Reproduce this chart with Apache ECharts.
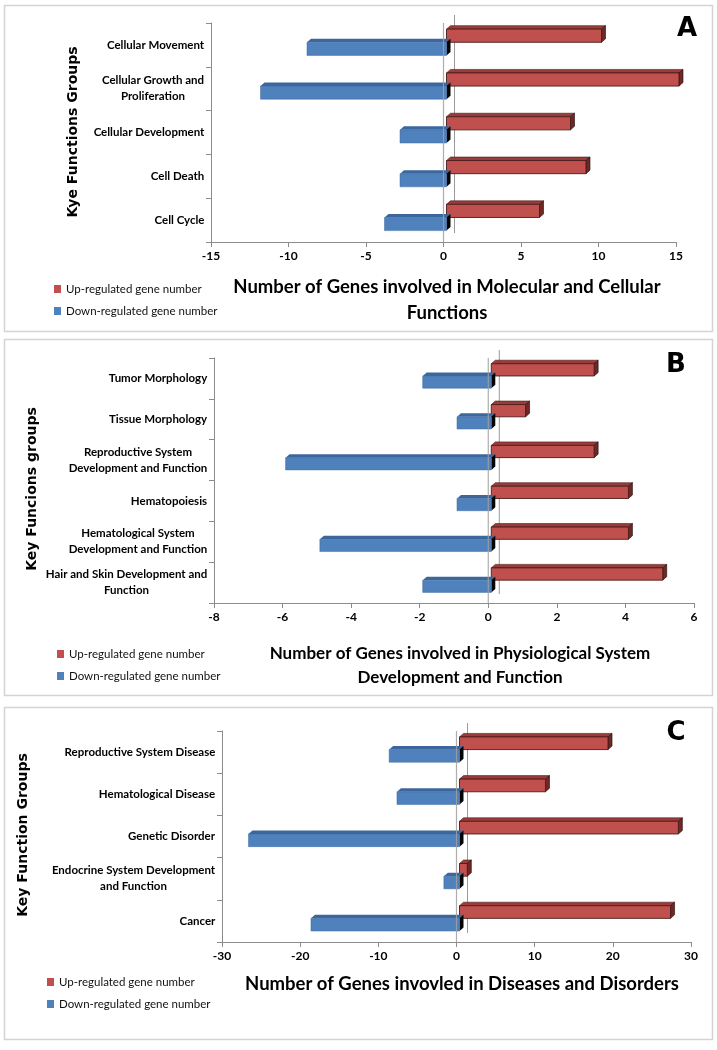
<!DOCTYPE html>
<html><head><meta charset="utf-8">
<script src="https://cdn.jsdelivr.net/npm/echarts@6/dist/echarts.min.js"></script>
<style>html,body{margin:0;padding:0;background:#fff}#c{width:717px;height:1050px}</style>
</head><body><div id="c"></div>
<script>
// ---------- DATA ----------
const catsA = ['Cellular Movement', 'Cellular Growth and\nProliferation', 'Cellular Development', 'Cell Death', 'Cell Cycle'];
const upA   = [10, 15, 8, 9, 6];
const downA = [-9, -12, -3, -3, -4];
const rangeA = [-15, 15, 5];

const catsB = ['Tumor Morphology', 'Tissue Morphology', 'Reproductive System\nDevelopment and Function', 'Hematopoiesis', 'Hematological System\nDevelopment and Function', 'Hair and Skin Development and\nFunction'];
const upB   = [3, 1, 3, 4, 4, 5];
const downB = [-2, -1, -6, -1, -5, -2];
const rangeB = [-8, 6, 2];

const catsC = ['Reproductive System Disease', 'Hematological Disease', 'Genetic Disorder', 'Endocrine System Development\nand Function', 'Cancer'];
const upC   = [19, 11, 28, 1, 27];
const downC = [-9, -8, -27, -2, -19];
const rangeC = [-30, 30, 10];

const seriesNames = ['Up-regulated gene number', 'Down-regulated gene number'];
const yTitles = ['Kye Functions Groups', 'Key Funcions groups', 'Key Function Groups'];
const xTitles = [['Number of Genes involved in Molecular and Cellular', 'Functions'],
                 ['Number of Genes involved in Physiological System', 'Development and Function'],
                 ['Number of Genes invovled in Diseases and Disorders']];
const letters = ['A', 'B', 'C'];

// ---------- STYLE / LAYOUT ----------
const FONT = 'Lato, "Open Sans", sans-serif';
const RED = '#C0504D', RED_TOP = '#9A3D3A', RED_SIDE = '#6E2826', RED_EDGE = '#4a1b1a';
const BLUE = '#4F81BD', BLUE_TOP = '#3B679C', BLUE_SIDE = '#050505';
const AXIS = '#8c8c8c';
const CAT_SIZE = 11.5;

const grids = [
  {left: 211, top: 23, width: 465, height: 219},
  {left: 214, top: 358, width: 480, height: 245},
  {left: 222, top: 731, width: 469, height: 211}
];

const measureCtx = document.createElement('canvas').getContext('2d');
measureCtx.font = 'bold ' + CAT_SIZE + 'px ' + FONT;

function makeRich(cats) {
  const rich = {};
  cats.forEach((c, i) => {
    const w = Math.max(...c.split('\n').map(l => measureCtx.measureText(l).width));
    rich['c' + i] = {width: Math.ceil(w) + 1, align: 'center', fontFamily: FONT, fontWeight: 'bold', fontSize: CAT_SIZE, lineHeight: 16, color: '#000'};
  });
  return rich;
}

function barRender(kind) {
  return function (params, api) {
    const v = api.value(0), ci = api.value(1);
    const z = api.coord([0, ci]), e = api.coord([v, ci]);
    const band = api.size([0, 1])[1];
    const c = z[1];
    const h = 0.30 * band;
    const y0 = kind === 'up' ? c - 0.36 * band : c - 0.06 * band;
    const shift = 3, dx = 4, dy = 3.5;
    const x0 = Math.min(z[0], e[0]) + shift, x1 = Math.max(z[0], e[0]) + shift;
    const isUp = kind === 'up';
    const front = isUp ? RED : BLUE, top = isUp ? RED_TOP : BLUE_TOP, side = isUp ? RED_SIDE : BLUE_SIDE;
    const edge = isUp ? RED_EDGE : '#3e6aa0';
    return {
      type: 'group',
      children: [
        {type: 'polygon', shape: {points: [[x0, y0], [x0 + dx, y0 - dy], [x1 + dx, y0 - dy], [x1, y0]]},
         style: {fill: top, stroke: isUp ? RED_EDGE : null, lineWidth: 0.6}},
        {type: 'polygon', shape: {points: [[x1, y0], [x1 + dx, y0 - dy], [x1 + dx, y0 + h - dy], [x1, y0 + h]]},
         style: {fill: side, stroke: isUp ? '#1a0a0a' : null, lineWidth: 0.6}},
        {type: 'rect', shape: {x: x0, y: y0, width: x1 - x0, height: h},
         style: {fill: front, stroke: edge, lineWidth: isUp ? 0.9 : 0.5}}
      ]
    };
  };
}

function lineRender(which) {
  return function (params, api) {
    const cs = params.coordSys;
    const x = api.coord([0, 0])[0];
    if (which === 'back') {
      return {type: 'line', shape: {x1: x + 11, y1: cs.y - 8, x2: x + 11, y2: cs.y + cs.height - 9},
              style: {stroke: '#9a9a9a', lineWidth: 1}};
    }
    return {type: 'line', shape: {x1: x, y1: cs.y, x2: x, y2: cs.y + cs.height},
            style: {stroke: '#a0a0a0', lineWidth: 1.2, opacity: 0.85}};
  };
}

const panels = [
  {cats: catsA, up: upA, down: downA, range: rangeA},
  {cats: catsB, up: upB, down: downB, range: rangeB},
  {cats: catsC, up: upC, down: downC, range: rangeC}
];

const xAxes = [], yAxes = [], series = [];
panels.forEach((p, i) => {
  const rich = makeRich(p.cats);
  xAxes.push({
    type: 'value', gridIndex: i, min: p.range[0], max: p.range[1], interval: p.range[2],
    axisLine: {show: true, lineStyle: {color: AXIS, width: 1}},
    axisTick: {show: true, length: 5, lineStyle: {color: AXIS}},
    splitLine: {show: false},
    axisLabel: {margin: 8, fontFamily: FONT, fontWeight: 'bold', fontSize: 12, color: '#000'}
  });
  yAxes.push({
    type: 'category', gridIndex: i, data: p.cats, inverse: true,
    axisLine: {show: true, onZero: false, lineStyle: {color: AXIS, width: 1}},
    axisTick: {show: true, length: 5, lineStyle: {color: AXIS}},
    splitLine: {show: false},
    axisLabel: {margin: 6, rich: rich, formatter: (v, idx) => v.split('\n').map(l => '{c' + idx + '|' + l + '}').join('\n')}
  });
  series.push({type: 'custom', name: '', silent: true, z: 1, xAxisIndex: i, yAxisIndex: i,
               renderItem: lineRender('back'), data: [[0, 0]], encode: {x: 0, y: 1}});
  series.push({type: 'custom', name: seriesNames[0], z: 2, xAxisIndex: i, yAxisIndex: i,
               itemStyle: {color: RED}, renderItem: barRender('up'),
               data: p.up.map((v, k) => [v, k]), encode: {x: 0, y: 1}});
  series.push({type: 'custom', name: seriesNames[1], z: 3, xAxisIndex: i, yAxisIndex: i,
               itemStyle: {color: BLUE}, renderItem: barRender('down'),
               data: p.down.map((v, k) => [v, k]), encode: {x: 0, y: 1}});
  series.push({type: 'custom', name: '', silent: true, z: 4, xAxisIndex: i, yAxisIndex: i,
               renderItem: lineRender('front'), data: [[0, 0]], encode: {x: 0, y: 1}});
});

const legendPos = [{left: 49, top: 277}, {left: 52, top: 642}, {left: 42, top: 970}];
const legends = legendPos.map(lp => ({
  left: lp.left, top: lp.top, orient: 'vertical', itemGap: 8, itemWidth: 7, itemHeight: 8, icon: 'rect',
  textStyle: {fontFamily: FONT, fontSize: 11.5, color: '#111', lineHeight: 14},
  data: seriesNames
}));

const boxes = [[4.5, 5.5, 708, 326], [4.5, 339.5, 708, 356], [4.5, 707.5, 708, 332]];
const yTitlePos = [[73, 132], [32, 489], [23, 835]];
const xTitlePos = [[447, 287, 26, 18.5], [460, 654, 24, 17], [462, 984, 0, 18.5]];
const letterPos = [[687, 29], [676, 365], [676, 733]];

const graphic = [];
boxes.forEach(b => graphic.push({type: 'rect', silent: true, shape: {x: b[0], y: b[1], width: b[2], height: b[3]},
  style: {fill: 'none', stroke: '#D4D4D4', lineWidth: 1.5}}));
yTitles.forEach((t, i) => graphic.push({type: 'text', x: yTitlePos[i][0], y: yTitlePos[i][1], rotation: Math.PI / 2,
  style: {text: t, font: 'bold 14px "DejaVu Sans", Verdana, sans-serif', fill: '#000', textAlign: 'center', textVerticalAlign: 'middle'}}));
xTitles.forEach((lines, i) => lines.forEach((t, k) => graphic.push({type: 'text', x: xTitlePos[i][0], y: xTitlePos[i][1] + k * xTitlePos[i][2],
  style: {text: t, font: 'bold ' + xTitlePos[i][3] + 'px ' + FONT, fill: '#000', textAlign: 'center', textVerticalAlign: 'middle'}})));
letters.forEach((t, i) => graphic.push({type: 'text', x: letterPos[i][0], y: letterPos[i][1],
  style: {text: t, font: '900 26px "DejaVu Sans", sans-serif', fill: '#000', textAlign: 'center', textVerticalAlign: 'middle'}}));

const chart = echarts.init(document.getElementById('c'), null, {renderer: 'canvas'});
chart.setOption({
  animation: false,
  backgroundColor: '#fff',
  grid: grids,
  xAxis: xAxes,
  yAxis: yAxes,
  legend: legends,
  series: series,
  graphic: graphic
});
</script></body></html>
